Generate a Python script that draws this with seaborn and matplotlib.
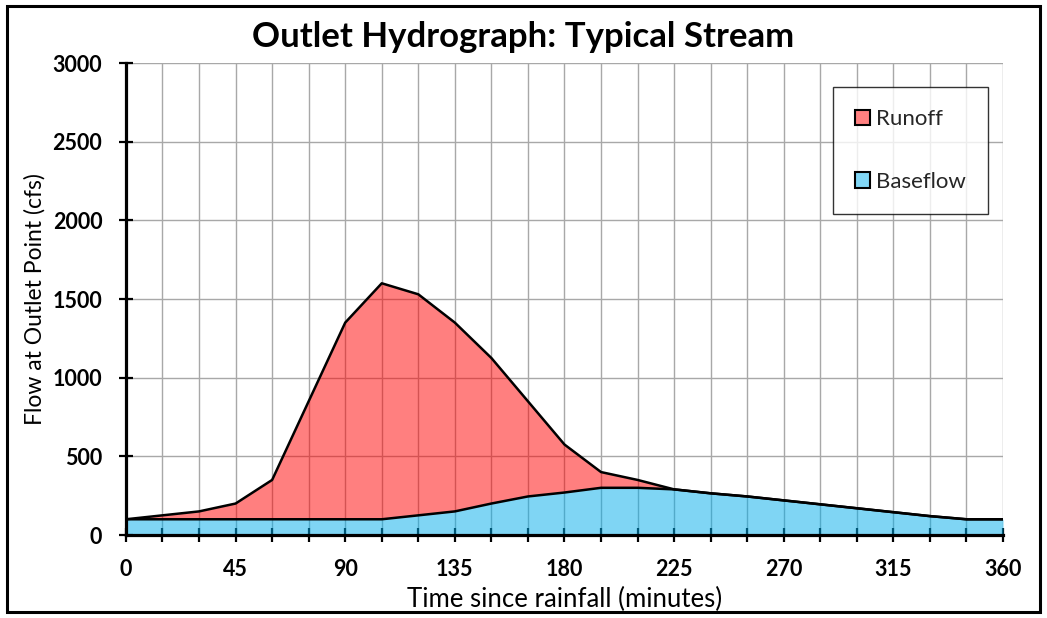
import matplotlib
matplotlib.use("Agg")
import matplotlib.pyplot as plt
from matplotlib.patches import Patch, Rectangle
from matplotlib.ticker import MultipleLocator
import numpy as np
import pandas as pd
import seaborn as sns

# ---- data ----
minutes = [0, 15, 30, 45, 60, 75, 90, 105, 120, 135, 150, 165, 180,
           195, 210, 225, 240, 255, 270, 285, 300, 315, 330, 345, 360]
runoff_total = [100, 125, 150, 200, 350, 850, 1350, 1600, 1530, 1350, 1125, 850, 575,
                400, 350, 290, 265, 245, 220, 195, 170, 145, 120, 100, 100]
baseflow = [100, 100, 100, 100, 100, 100, 100, 100, 125, 150, 200, 245, 270,
            300, 300, 290, 265, 245, 220, 195, 170, 145, 120, 100, 100]
x_major_ticks = [0, 45, 90, 135, 180, 225, 270, 315, 360]
y_ticks = [0, 500, 1000, 1500, 2000, 2500, 3000]
series_names = ["Runoff", "Baseflow"]
title = "Outlet Hydrograph: Typical Stream"
xlabel = "Time since rainfall (minutes)"
ylabel = "Flow at Outlet Point (cfs)"

df = pd.DataFrame({"minutes": minutes, "Runoff": runoff_total, "Baseflow": baseflow})

sns.set_theme(style="white")
plt.rcParams["font.family"] = ["Lato", "DejaVu Sans"]

fig = plt.figure(figsize=(10.47, 6.18), dpi=100)
ax = fig.add_axes([0.1203, 0.1343, 0.958 - 0.1203, 0.898 - 0.1343])

red = (1.0, 0.0, 0.0)
blue = (0.0, 0.68, 0.92)

# grid below fills (fills are semi-transparent)
ax.set_axisbelow(True)
ax.xaxis.set_minor_locator(MultipleLocator(15))
ax.set_xticks(x_major_ticks)
ax.set_yticks(y_ticks)
ax.grid(which="both", axis="x", color="#a8a8a8", lw=1.0)
ax.grid(which="major", axis="y", color="#a8a8a8", lw=1.0)

ax.fill_between(df["minutes"], df["Baseflow"], df["Runoff"], color=red, alpha=0.5, lw=0, zorder=2)
ax.fill_between(df["minutes"], 0, df["Baseflow"], color=blue, alpha=0.5, lw=0, zorder=2)

sns.lineplot(data=df, x="minutes", y="Runoff", color="black", lw=1.8, ax=ax, zorder=3)
sns.lineplot(data=df, x="minutes", y="Baseflow", color="black", lw=1.8, ax=ax, zorder=3)

ax.set_xlim(0, 360)
ax.set_ylim(0, 3000)

for s in ["top", "right"]:
    ax.spines[s].set_visible(False)
for s in ["left", "bottom"]:
    ax.spines[s].set_visible(True)
    ax.spines[s].set_color("black")
    ax.spines[s].set_linewidth(2.3)
    ax.spines[s].set_zorder(4)

ax.tick_params(axis="x", which="both", direction="inout", length=10, width=1.6,
               color="black", bottom=True, pad=12)
ax.tick_params(axis="y", which="major", direction="inout", length=10, width=1.6,
               color="black", left=True, pad=12)
for lab in ax.get_xticklabels() + ax.get_yticklabels():
    lab.set_fontweight("bold")
    lab.set_fontsize(15.5)
    lab.set_color("black")

ax.set_xlabel(xlabel, fontsize=18.5, color="black", labelpad=5)
ax.set_ylabel(ylabel, fontsize=16.5, color="black", labelpad=5)

fig.text(0.5, 0.94, title, ha="center", va="center", fontsize=25,
         fontweight="bold", color="black")

handles = [Patch(facecolor=(1.0, 0.5, 0.5), edgecolor="black", lw=1.5),
           Patch(facecolor=(0.5, 0.84, 0.96), edgecolor="black", lw=1.5)]
leg = ax.legend(handles, series_names, loc="upper right", bbox_to_anchor=(0.983, 0.949),
                fontsize=16, frameon=True, fancybox=False, edgecolor="black",
                handlelength=0.7, handleheight=0.7, handletextpad=0.25,
                labelspacing=1.9, borderpad=1.0, borderaxespad=0)
leg.get_frame().set_linewidth(1.0)
leg.set_zorder(5)

fig.patches.append(Rectangle((0.007, 0.01), 0.986, 0.98, transform=fig.transFigure,
                             fill=False, edgecolor="black", lw=2.2))

fig.savefig("out.png", dpi=100)
